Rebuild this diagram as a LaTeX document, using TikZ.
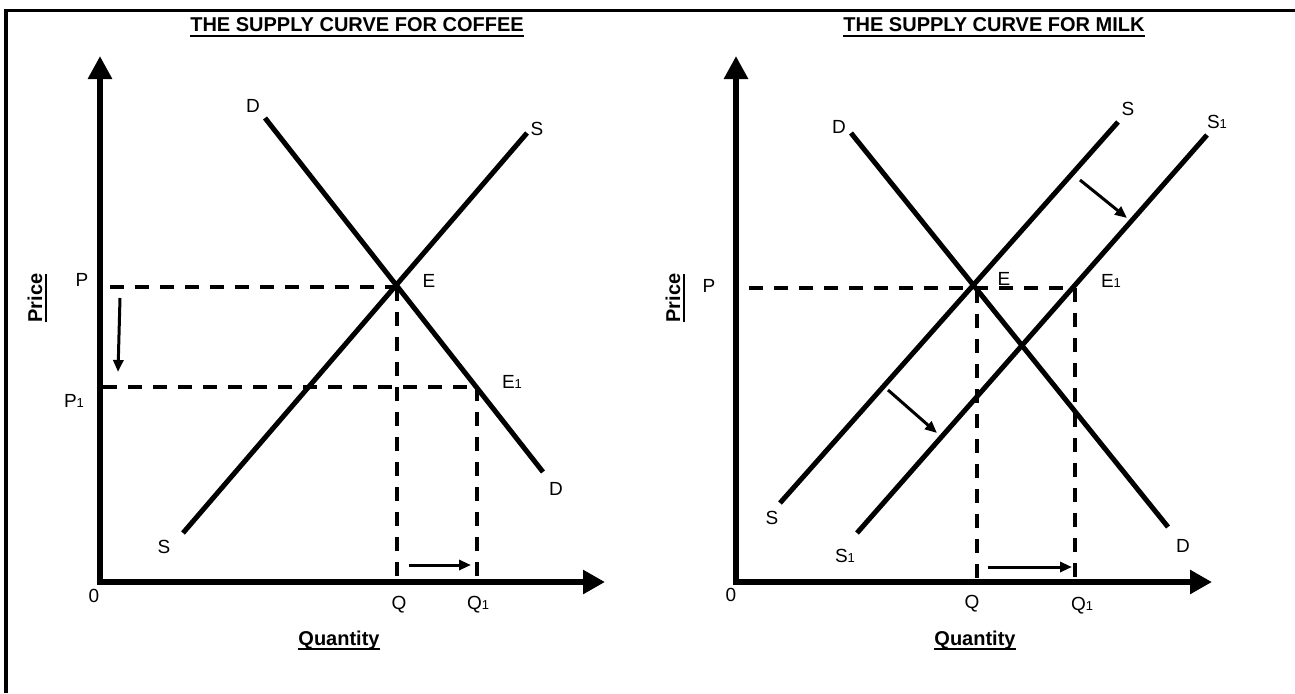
\documentclass[tikz,border=0pt]{standalone}
\usepackage{fontspec}
\setmainfont{Liberation Sans}
\usetikzlibrary{arrows.meta}
\newlength\ulw
\newcommand\myul[1]{\settowidth{\ulw}{#1}\rlap{\rule[-5pt]{\ulw}{2pt}}#1}
\newcommand\subone{{\fontsize{13}{13}\selectfont 1}}
\begin{document}
\begin{tikzpicture}[x=1pt,y=-1pt,
  axisline/.style={line width=6pt, line join=miter, {Triangle[length=23pt,width=23pt]}-{Triangle[length=22pt,width=23pt]}},
  curveline/.style={line width=5pt},
  guideline/.style={line width=3.5pt, dash pattern=on 14pt off 11pt},
  mover/.style={line width=3pt, -{Triangle[length=12pt,width=10pt]}},
  lbl/.style={font=\fontsize{19}{19}\selectfont, inner sep=0pt, anchor=base},
  ttl/.style={font=\bfseries\fontsize{20}{20}\selectfont, inner sep=0pt, anchor=base},
  frameline/.style={line width=3.5pt, line join=miter}]
\useasboundingbox (0,0) rectangle (1295,693);
\fill[white] (0,0) rectangle (1295,693);
% frame
\draw[frameline] (6,693) -- (6,10.5) -- (1295,10.5);

% ================= LEFT: COFFEE =================
\coordinate (O1) at (100,582);
\coordinate (Y1) at (100,56);
\coordinate (X1) at (605,582);
\coordinate (D1a) at (265,118);
\coordinate (D1b) at (543,472);
\coordinate (S1a) at (183,533);
\coordinate (S1b) at (527,133);
\coordinate (E) at (397,287);
\coordinate (E1) at (477,387);
\coordinate (Pl) at (110,287);
\coordinate (P1l) at (103,387);
\coordinate (pa) at (120,298);
\coordinate (pb) at (118,372);
\coordinate (qa) at (409,565);
\coordinate (qb) at (471,565);

\draw[guideline] (Pl) -- (E);
\draw[guideline] (P1l) -- (E1);
\draw[guideline] (E) -- (E |- O1);
\draw[guideline] (E1) -- (E1 |- O1);
\draw[curveline] (D1a) -- (D1b);
\draw[curveline] (S1a) -- (S1b);
\draw[axisline] (Y1) -- (O1) -- (X1);
\draw[mover] (pa) -- (pb);
\draw[mover] (qa) -- (qb);

\node[ttl] (t1) at (357,32) {\myul{THE SUPPLY CURVE FOR COFFEE}};
\node[ttl, rotate=90] (pr1) at (42,298) {\myul{Price}};
\node[ttl] (qu1) at (339,645) {\myul{Quantity}};
\node[lbl] (lD1t) at (253,112) {D};
\node[lbl] (lD1b) at (556,495) {D};
\node[lbl] (lS1t) at (537,135) {S};
\node[lbl] (lS1b) at (164,553) {S};
\node[lbl] (lE) at (429,287) {E};
\node[lbl] (lE1) at (512,388) {E\subone};
\node[lbl] (lP) at (82,286) {P};
\node[lbl] (lP1) at (74,407) {P\subone};
\node[lbl] (l01) at (94,602) {0};
\node[lbl] (lQ) at (399,609) {Q};
\node[lbl] (lQ1) at (478,609) {Q\subone};

% ================= RIGHT: MILK =================
\coordinate (O2) at (736,582);
\coordinate (Y2) at (736,56);
\coordinate (X2) at (1212,582);
\coordinate (D2a) at (851,133);
\coordinate (D2b) at (1168,527);
\coordinate (S2a) at (780,503);
\coordinate (S2b) at (1118,122);
\coordinate (T2a) at (857,533);
\coordinate (T2b) at (1207,135);
\coordinate (F) at (973,287);
\coordinate (F1) at (1075,288);
\coordinate (Pr) at (749,288);
\coordinate (Fq) at (977,289);
\coordinate (ra) at (1080,180);
\coordinate (rb) at (1127,218);
\coordinate (sa) at (888,390);
\coordinate (sb) at (937,433);
\coordinate (ua) at (988,567);
\coordinate (ub) at (1072,567);

\draw[guideline] (Pr) -- (F1);
\draw[guideline] (Fq) -- (Fq |- O2);
\draw[guideline] (F1) -- (F1 |- O2);
\draw[curveline] (D2a) -- (D2b);
\draw[curveline] (S2a) -- (S2b);
\draw[curveline] (T2a) -- (T2b);
\draw[axisline] (Y2) -- (O2) -- (X2);
\draw[mover] (ra) -- (rb);
\draw[mover] (sa) -- (sb);
\draw[mover] (ua) -- (ub);

\node[ttl] (t2) at (994,32) {\myul{THE SUPPLY CURVE FOR MILK}};
\node[ttl, rotate=90] (pr2) at (680,298) {\myul{Price}};
\node[ttl] (qu2) at (975,645) {\myul{Quantity}};
\node[lbl] (lD2t) at (839,133) {D};
\node[lbl] (lD2b) at (1183,552) {D};
\node[lbl] (lS2t) at (1128,115) {S};
\node[lbl] (lS2b) at (772,524) {S};
\node[lbl] (lT2t) at (1217,128) {S\subone};
\node[lbl] (lT2b) at (845,562) {S\subone};
\node[lbl] (lF) at (1004,285) {E};
\node[lbl] (lF1) at (1111,287) {E\subone};
\node[lbl] (lP2) at (709,292) {P};
\node[lbl] (l02) at (731,601) {0};
\node[lbl] (lQ2) at (972,608) {Q};
\node[lbl] (lQ21) at (1082,610) {Q\subone};
\end{tikzpicture}
\end{document}
